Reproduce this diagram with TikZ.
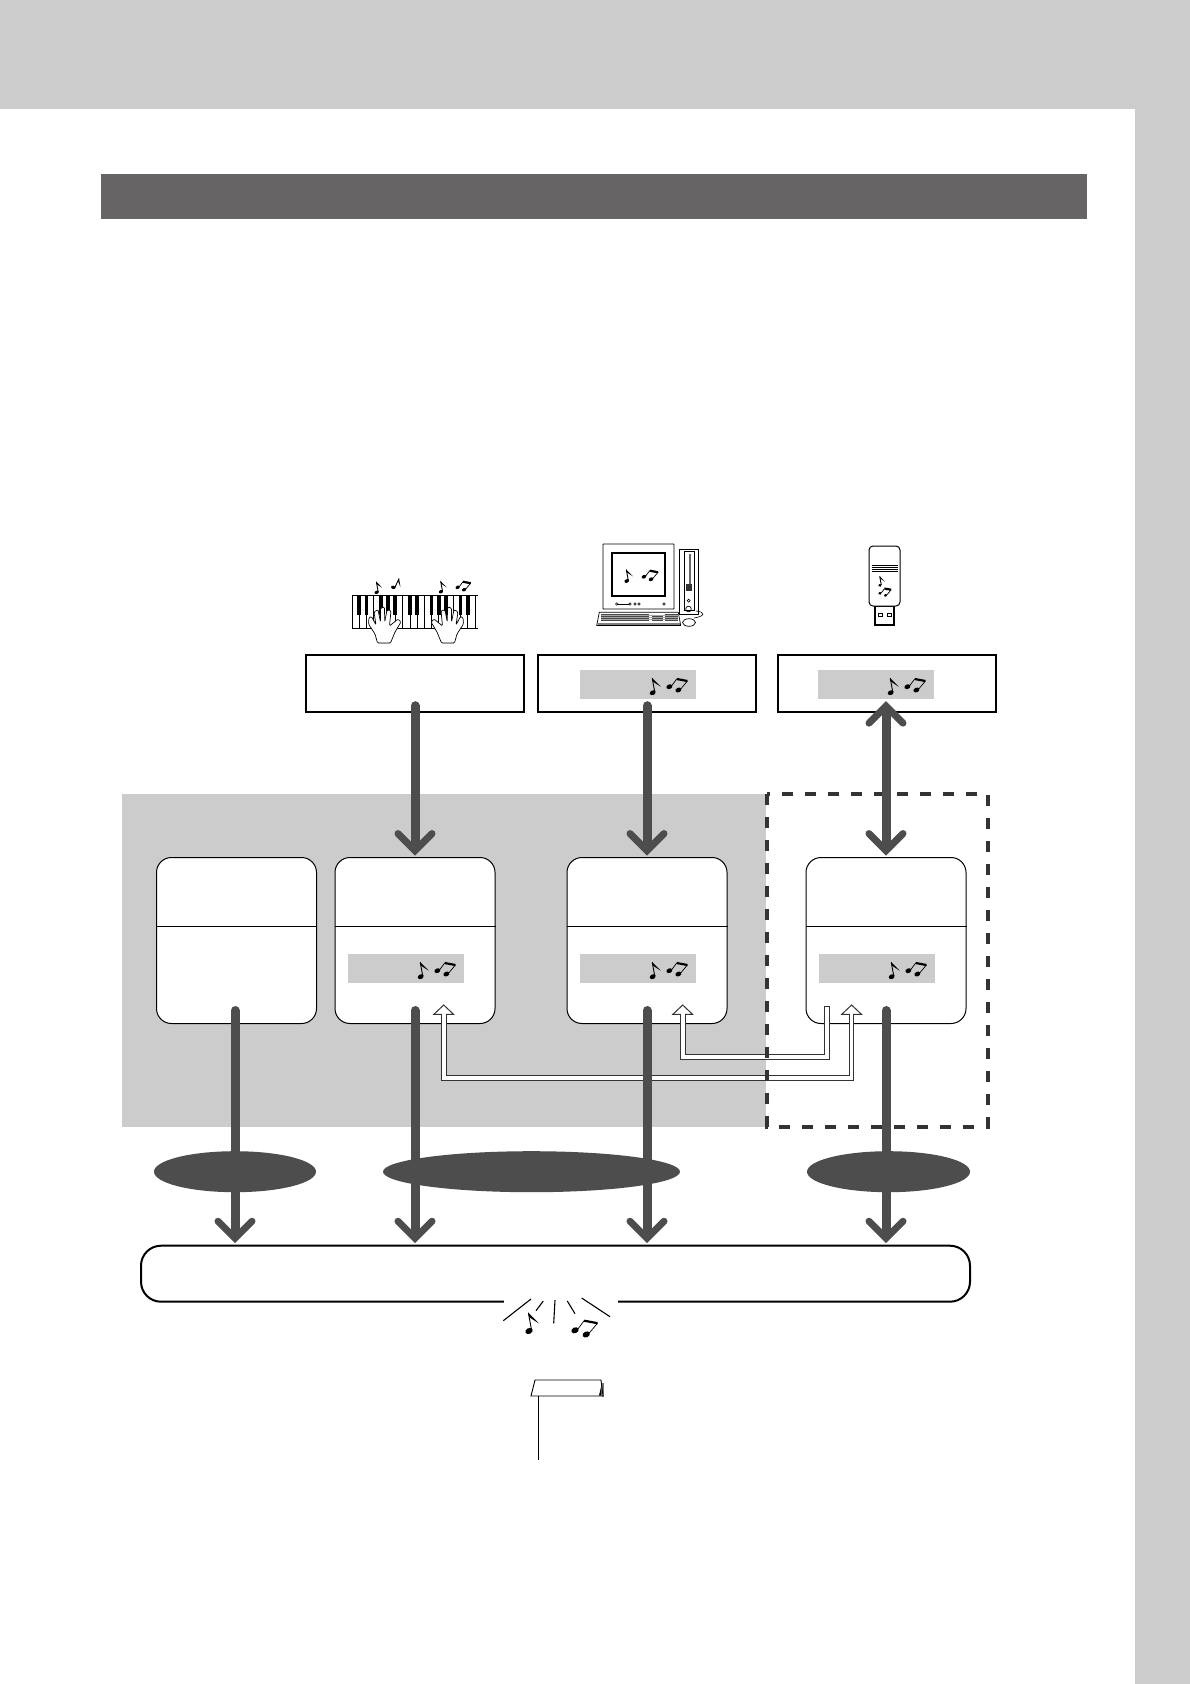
\documentclass[tikz,border=0pt]{standalone}
\usetikzlibrary{shapes.geometric,arrows.meta,calc}
\definecolor{panel}{HTML}{CCCCCC}
\definecolor{band}{HTML}{666464}
\definecolor{flowgray}{HTML}{4D4D4D}
\definecolor{dashgray}{HTML}{333333}

\begin{document}
\begin{tikzpicture}[
    x=1pt, y=-1pt,
    >={Straight Barb[length=17pt,width=34pt,line width=7pt,line cap=round,line join=miter]},
    topbox/.style={draw, line width=2.4pt, minimum width=218pt, minimum height=57pt, inner sep=0pt},
    midbox/.style={draw, fill=white, line width=1pt, rounded corners=15pt, minimum width=160pt, minimum height=166pt, inner sep=0pt},
    tag/.style={fill=panel, minimum width=116pt, minimum height=29pt, inner sep=0pt},
    lobe/.style={ellipse, fill=flowgray, minimum height=41pt, inner sep=0pt},
    flow/.style={line width=9pt, draw=flowgray, line cap=round, shorten >=1.5pt},
    hollowout/.style={line width=5.7pt, draw=dashgray},
    hollowin/.style={line width=3.7pt, draw=white},
    hollowtip/.tip={Triangle[length=10.5pt,width=22pt,line width=1pt,fill=white]},
    notehead/.style={rotate=25},
    eighthnote/.pic={
        \fill[notehead] (0,0) ellipse [x radius=3.1, y radius=2.3];
        \draw[line width=.9pt] (2,-1) -- (-.5,-14.5);
        \fill (-.7,-14.8) -- (8,-6) -- (.2,-11) -- cycle;
    },
    beamnote/.pic={
        \fill[notehead] (0,0) ellipse [x radius=3.1, y radius=2.3];
        \fill[shift={(9,3.3)}, notehead] (0,0) ellipse [x radius=3.1, y radius=2.3];
        \draw[line width=.7pt] (2.3,-1) -- (7.3,-7.7);
        \draw[line width=.7pt] (11.3,2.3) -- (18,-5.7);
        \draw[line width=2.2pt] (7.3,-7.7) -- (18,-5.7);
    },
    tagnotes/.pic={
        \pic {eighthnote};
        \pic at (16.7,-6) {beamnote};
    },
    hand/.pic={
        \draw[fill=white, line width=.7pt, rounded corners=1.2pt] (-7.5,36) -- (-10,27) -- (-16.5,17) -- (-16,10.5) -- (-13.5,9.5)
            -- (-9,18) -- (-11,5) -- (-7,2.5) -- (-4.5,15) -- (-4.5,1) -- (-.5,0) -- (-.3,15) -- (2,3) -- (6,3.5)
            -- (4.5,19) -- (13,12) -- (16,15) -- (10,25) -- (5.5,36) -- cycle;
        \draw[black!40, line width=1pt] (-6.5,36) -- (4.5,36);
    },
]

\useasboundingbox (0,0) rectangle (1190,1684);

% Page
\fill[panel] (0,0) rectangle (1190,1684);
\fill[white] (0,109) rectangle (1134.5,1684);
\fill[band] (101,174) rectangle (1087,219);
\fill[panel] (122,794) rectangle (765.7,1126.7);

% Keyboard and hands
\foreach \k in {0,...,17}
    \draw[line width=.6pt] ({352+7.23*\k},595) -- ({352+7.23*\k},628);
\draw[line width=.9pt] (352,595) -- (478,595);
\draw[line width=.9pt] (352,628) -- (478,628);
\foreach \k in {1,2,4,5,6,8,9,11,12,13,15,16}
    \fill ({352+7.23*\k-1.9},595) rectangle ({352+7.23*\k+1.9},615);
\pic at (385,607) {hand};
\pic[xscale=-1] at (447,607) {hand};
\pic[scale=.72] at (376.7,592.3) {eighthnote};
\pic[scale=.72,rotate=-35] at (393.3,587.3) {eighthnote};
\pic[scale=.72] at (441,591.7) {eighthnote};
\pic[scale=.72] at (457.7,587.3) {beamnote};

% Computer
\draw[line width=.8pt, rounded corners=.5pt] (603,544) rectangle (674,609);
\draw[line width=2pt] (612,553) rectangle (665,596);
\foreach \cx in {616.7,630,635,639,664}
    \draw[line width=.5pt] (\cx,604) circle [radius=1.2];
\draw[line width=.5pt] (618,604) -- (629,604);
\pic[scale=.78] at (626.7,581) {eighthnote};
\pic[scale=.78] at (644,576.7) {beamnote};
\draw[line width=.8pt] (679,549) rectangle (698,614);
\draw[line width=.5pt] (684,551) rectangle (694,610);
\draw[line width=1.2pt, black!60] (690,554) -- (690,584);
\fill[black!80] (685.5,584) rectangle (692,591);
\draw[line width=.7pt] (688.7,600.7) circle [radius=1.5];
\draw[line width=.7pt] (688.5,609) circle [radius=2.8];
\draw[line width=.6pt] (696,611) .. controls (705,612) and (706,616) .. (694,618);
\draw[line width=.7pt, fill=white] (689,622.5) ellipse [x radius=6.5, y radius=3.8];
\draw[line width=.7pt, fill=white] (599.3,612.3) -- (678.3,612.3) -- (680.7,625.5) -- (596.7,625.5) -- cycle;
\fill[black!72] (601,613.5) rectangle (649,621);
\fill[black!72] (652,615) rectangle (663,621);
\fill[black!72] (665,613.5) rectangle (678,621);
\foreach \ky in {615.4,617.3,619.2}
    \draw[black!35, line width=.3pt] (601,\ky) -- (678,\ky);
\draw[line width=1.2pt, black!50] (598,624) -- (680,624);

% USB memory
\draw[line width=1.3pt] (875,606) rectangle (894,625);
\draw[line width=.8pt] (878.7,613.5) rectangle (882,616.5);
\draw[line width=.8pt] (887.7,613.5) rectangle (891,616.5);
\draw[line width=1pt, fill=white, rounded corners=4pt] (869,546) rectangle (900,606);
\foreach \ly in {565,567,569,571}
    \draw[line width=.6pt] (871.5,\ly) -- (898,\ly);
\pic[scale=.62] at (880,585.3) {eighthnote};
\pic[scale=.62] at (880,593.3) {beamnote};

% Sources
\node[topbox] (pianobox) at (415,683.5) {};
\node[topbox] (songbox) at (647,683.5) {};
\node[topbox] (usbbox) at (887,683.5) {};
\node[tag] (songtag) at (638,684.5) {};
\node[tag] (usbtag) at (876,684.5) {};

% Parts
\node[midbox] (midA) at (236.5,940.5) {};
\node[midbox] (midB) at (415,940.5) {};
\node[midbox] (midC) at (647,940.5) {};
\node[midbox] (midD) at (886,940.5) {};
\foreach \b in {midA,midB,midC,midD}
    \draw[line width=1pt] ([yshift=14pt]\b.west) -- ([yshift=14pt]\b.east);
\node[tag] (tagB) at (406,968.5) {};
\node[tag] (tagC) at (638,968.5) {};
\node[tag] (tagD) at (877,968.5) {};
\foreach \t in {songtag,usbtag,tagB,tagC,tagD}
    \pic at ([shift={(14.7pt,-8.2pt)}]\t.center) {tagnotes};

% Copy arrows
\coordinate (copyB) at (443.7,1004.3);
\coordinate (copyC) at (682.7,1004.3);
\coordinate (copyD) at (851.6,1004.3);
\coordinate (copyE) at (827,1006);
\draw[hollowout, {hollowtip}-{hollowtip}] (copyB) -- ++(0,73.7) -| (copyD);
\draw[hollowin, shorten <=9pt, shorten >=9pt] (copyB) -- ++(0,73.7) -| (copyD);
\draw[hollowout, {hollowtip}-] (copyC) -- ++(0,53) -| (copyE);
\draw[hollowin, shorten <=9pt, shorten >=1pt] (copyC) -- ++(0,53) -| (copyE);

% Dashed area
\draw[line width=4.4pt, draw=dashgray, dash pattern=on 11pt off 12pt] (767,794) rectangle (988,1126.7);

% Output
\node[lobe, minimum width=162pt] (lobeA) at (235,1171.7) {};
\node[lobe, minimum width=297pt] (lobeB) at (531.5,1171.7) {};
\node[lobe, minimum width=163pt] (lobeC) at (888.5,1171.7) {};
\node[draw, fill=white, line width=2pt, rounded corners=20pt, minimum width=829pt, minimum height=56pt, inner sep=0pt] (bar) at (555.5,1273.7) {};

% Flow arrows
\draw[flow, ->] ([yshift=7.5pt]pianobox.south) -- (midB.north);
\draw[flow, ->] ([yshift=7.5pt]songbox.south) -- (midC.north);
\draw[flow, <->] (midD.north |- usbbox.south) ++(0,-12) -- (midD.north);
\draw[flow, ->] ([shift={(-1.5pt,13.5pt)}]midA.south) -- ([xshift=-1.5pt]midA.south |- bar.north);
\draw[flow, ->] ([yshift=13.5pt]midB.south) -- (midB.south |- bar.north);
\draw[flow, ->] ([yshift=13.5pt]midC.south) -- (midC.south |- bar.north);
\draw[flow, ->] ([yshift=13.5pt]midD.south) -- (midD.south |- bar.north);

% Sound
\fill[white] (504,1298) rectangle (618,1305);
\foreach \ax/\ay/\bx/\by in {503.3/1320.7/531/1299, 536/1310.7/543.3/1301, 553.7/1323.3/555/1300, 567.3/1301/575/1313.7, 581.7/1298/610/1316.7}
    \draw[line width=1.1pt] (\ax,\ay) -- (\bx,\by);
\pic[scale=1.25] at (529,1331) {eighthnote};
\pic[scale=1.25] at (575,1330.3) {beamnote};

% Note mark
\fill[black!55] (601.5,1383) rectangle (604,1396.5);
\draw[line width=.9pt, fill=white] (535,1380) -- (601,1380) -- (603,1396) -- (531,1396) -- cycle;
\fill (599,1395.5) -- (601.5,1385) -- (601.5,1395.5) -- cycle;
\coordinate (markfoot) at (538,1460);
\draw[line width=.9pt] (538,1396) -- (markfoot);

\end{tikzpicture}
\end{document}
